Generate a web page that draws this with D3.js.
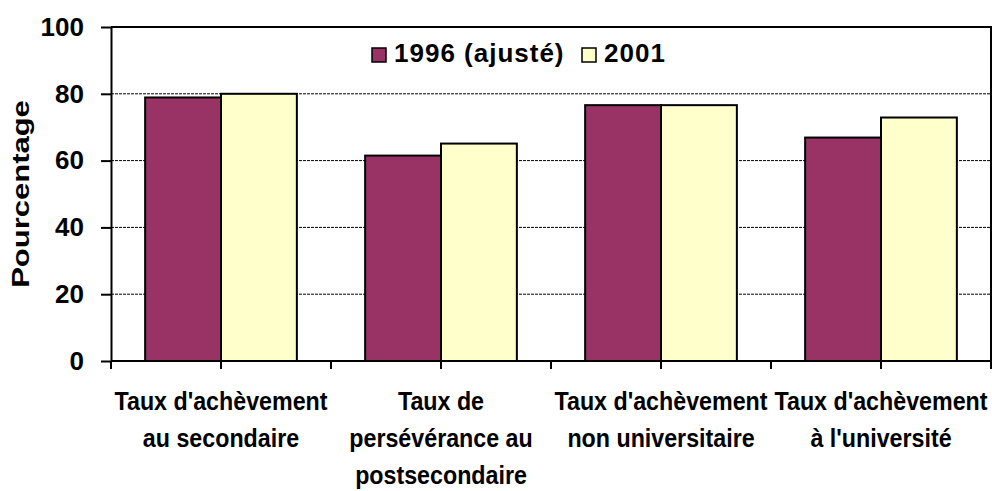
<!DOCTYPE html>
<html lang="fr">
<head>
<meta charset="utf-8">
<title>Taux d'achèvement</title>
<script src="https://cdn.jsdelivr.net/npm/d3@7"></script>
<style>
  html, body { margin: 0; padding: 0; background: #fff; }
  svg { display: block; font-family: "Liberation Sans", Arial, sans-serif; font-weight: bold; }
</style>
</head>
<body>
<svg id="chart"></svg>
<script>
(function () {
  "use strict";

  const categories = [
    ["Taux d'achèvement", "au secondaire"],
    ["Taux de", "persévérance au", "postsecondaire"],
    ["Taux d'achèvement", "non universitaire"],
    ["Taux d'achèvement", "à l'université"],
  ];
  const seriesNames = ["1996 (ajusté)", "2001"];
  const values1996 = [78.9, 61.5, 76.6, 66.9];
  const values2001 = [80.0, 65.1, 76.6, 72.9];
  const yTicks = [0, 20, 40, 60, 80, 100];
  const yTitle = "Pourcentage";

  const WIDTH = 992;
  const HEIGHT = 491;
  const margin = { top: 27, right: 1, bottom: 130, left: 111 };
  const innerW = WIDTH - margin.left - margin.right;
  const innerH = HEIGHT - margin.top - margin.bottom;
  const colors = { "1996 (ajusté)": "#993366", "2001": "#ffffcc" };

  const rows = categories.map((c, i) => ({
    idx: i,
    lines: c,
    values: [
      { key: seriesNames[0], value: values1996[i] },
      { key: seriesNames[1], value: values2001[i] },
    ],
  }));

  const svg = d3.select("#chart").attr("width", WIDTH).attr("height", HEIGHT);
  svg.append("rect").attr("width", WIDTH).attr("height", HEIGHT).attr("fill", "#fff");

  const g = svg.append("g").attr("transform", `translate(${margin.left},${margin.top})`);

  const x0 = d3.scaleBand().domain(rows.map((d) => d.idx)).range([0, innerW]).padding(0);
  const x1 = d3.scaleBand().domain(seriesNames).range([0, x0.bandwidth()]).paddingInner(0).paddingOuter(0.45);
  const y = d3.scaleLinear().domain([0, 100]).range([innerH, 0]);

  // dashed gridlines
  g.selectAll("line.grid")
    .data(yTicks.filter((t) => t > 0 && t < 100))
    .enter()
    .append("line")
    .attr("class", "grid")
    .attr("x1", 0)
    .attr("x2", innerW)
    .attr("y1", (d) => y(d))
    .attr("y2", (d) => y(d))
    .attr("stroke", "#000")
    .attr("stroke-width", 1)
    .attr("stroke-dasharray", "3,1");

  // bars
  const groups = g.selectAll("g.cat")
    .data(rows)
    .enter()
    .append("g")
    .attr("class", "cat")
    .attr("transform", (d) => `translate(${x0(d.idx)},0)`);

  groups.selectAll("rect")
    .data((d) => d.values)
    .enter()
    .append("rect")
    .attr("x", (d) => x1(d.key))
    .attr("y", (d) => y(d.value))
    .attr("width", x1.bandwidth())
    .attr("height", (d) => innerH - y(d.value))
    .attr("fill", (d) => colors[d.key])
    .attr("stroke", "#000")
    .attr("stroke-width", 2);

  // plot frame: top and right
  g.append("path")
    .attr("d", `M0,${y(100)}H${innerW}V${innerH}`)
    .attr("fill", "none")
    .attr("stroke", "#000")
    .attr("stroke-width", 2);

  // y axis
  const yAxis = g.append("g")
    .call(d3.axisLeft(y).tickValues(yTicks).tickSize(10).tickPadding(17).tickSizeOuter(0))
    .attr("font-family", null)
    .attr("font-size", null);
  yAxis.select(".domain").attr("stroke-width", 2);
  yAxis.selectAll(".tick line").attr("stroke-width", 2);
  yAxis.selectAll(".tick text")
    .attr("font-size", 26)
    .attr("fill", "#000");

  // x axis: ticks at category edges and centres
  const half = x0.bandwidth() / 2;
  const xTickPos = d3.range(rows.length * 2 + 1).map((i) => i * half);
  g.append("line")
    .attr("x1", 0)
    .attr("x2", innerW)
    .attr("y1", innerH)
    .attr("y2", innerH)
    .attr("stroke", "#000")
    .attr("stroke-width", 2);
  g.selectAll("line.xtick")
    .data(xTickPos)
    .enter()
    .append("line")
    .attr("class", "xtick")
    .attr("x1", (d) => d)
    .attr("x2", (d) => d)
    .attr("y1", innerH)
    .attr("y2", innerH + 8)
    .attr("stroke", "#000")
    .attr("stroke-width", 2);

  // category labels, a touch narrower than plain Arial
  const labels = g.selectAll("text.xlabel")
    .data(rows)
    .enter()
    .append("text")
    .attr("class", "xlabel")
    .attr("transform", (d) => `translate(${x0(d.idx) + half},0) scale(0.93,1)`)
    .attr("text-anchor", "middle")
    .attr("font-size", 25)
    .attr("fill", "#000");
  labels.selectAll("tspan")
    .data((d) => d.lines)
    .enter()
    .append("tspan")
    .attr("x", 0)
    .attr("y", (d, i) => innerH + 49 + i * 37)
    .text((d) => d);

  // y title, squeezed a bit across its thickness
  svg.append("text")
    .attr("transform", `translate(29,${margin.top + innerH / 2}) rotate(-90) scale(1,0.75)`)
    .attr("text-anchor", "middle")
    .attr("font-size", 31)
    .attr("fill", "#000")
    .text(yTitle);

  // legend
  const legend = svg.append("g").attr("transform", "translate(372,48)");
  const legendX = [0, 210];
  const item = legend.selectAll("g")
    .data(seriesNames)
    .enter()
    .append("g")
    .attr("transform", (d, i) => `translate(${legendX[i]},0)`);
  item.append("rect")
    .attr("width", 14)
    .attr("height", 14)
    .attr("fill", (d) => colors[d])
    .attr("stroke", "#000")
    .attr("stroke-width", 1.5);
  item.append("text")
    .attr("x", 22)
    .attr("y", 14)
    .attr("font-size", 26)
    .attr("letter-spacing", 1)
    .attr("fill", "#000")
    .text((d) => d);
})();
</script>
</body>
</html>
